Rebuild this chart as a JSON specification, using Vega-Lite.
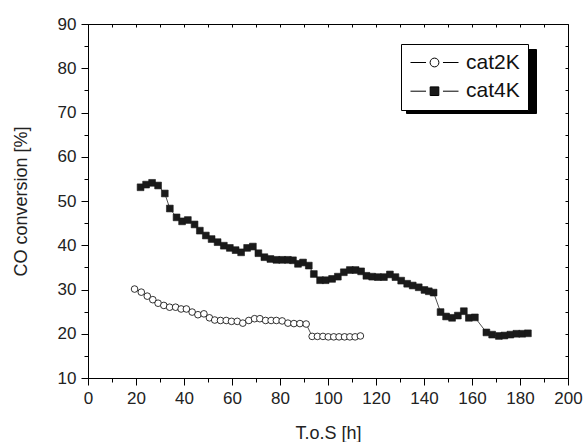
{
  "$schema": "https://vega.github.io/schema/vega-lite/v6.json",
  "width": 480,
  "height": 354,
  "autosize": {"type": "none"},
  "padding": {"left": 88, "top": 24, "right": 20, "bottom": 64},
  "background": "white",
  "config": {
    "font": "Liberation Sans",
    "view": {"stroke": "black", "strokeWidth": 1},
    "axis": {"grid": false, "domainColor": "black", "tickColor": "black", "labelColor": "#222", "titleColor": "#222", "titleFontWeight": "normal", "labelFont": "Liberation Sans", "titleFont": "Liberation Sans"},
    "legend": {"labelFont": "Liberation Sans"}
  },
  "data": {
    "values": [
      {"series": "cat2K", "t": 19.4, "conv": 30.1},
      {"series": "cat2K", "t": 22.2, "conv": 29.4},
      {"series": "cat2K", "t": 24.7, "conv": 28.5},
      {"series": "cat2K", "t": 27.0, "conv": 27.7},
      {"series": "cat2K", "t": 29.2, "conv": 26.9},
      {"series": "cat2K", "t": 31.6, "conv": 26.4},
      {"series": "cat2K", "t": 34.0, "conv": 26.0},
      {"series": "cat2K", "t": 36.5, "conv": 26.0},
      {"series": "cat2K", "t": 38.8, "conv": 25.6},
      {"series": "cat2K", "t": 41.0, "conv": 25.6},
      {"series": "cat2K", "t": 43.4, "conv": 24.9},
      {"series": "cat2K", "t": 45.8, "conv": 24.3},
      {"series": "cat2K", "t": 48.3, "conv": 24.5},
      {"series": "cat2K", "t": 50.6, "conv": 23.6},
      {"series": "cat2K", "t": 52.8, "conv": 23.1},
      {"series": "cat2K", "t": 55.2, "conv": 23.0},
      {"series": "cat2K", "t": 57.6, "conv": 23.0},
      {"series": "cat2K", "t": 59.8, "conv": 22.8},
      {"series": "cat2K", "t": 62.2, "conv": 22.8},
      {"series": "cat2K", "t": 64.5, "conv": 22.4},
      {"series": "cat2K", "t": 67.0, "conv": 23.0},
      {"series": "cat2K", "t": 69.4, "conv": 23.4},
      {"series": "cat2K", "t": 71.6, "conv": 23.4},
      {"series": "cat2K", "t": 74.0, "conv": 23.0},
      {"series": "cat2K", "t": 76.3, "conv": 23.0},
      {"series": "cat2K", "t": 78.5, "conv": 23.0},
      {"series": "cat2K", "t": 80.9, "conv": 22.9},
      {"series": "cat2K", "t": 83.3, "conv": 22.4},
      {"series": "cat2K", "t": 85.8, "conv": 22.3},
      {"series": "cat2K", "t": 88.3, "conv": 22.3},
      {"series": "cat2K", "t": 90.9, "conv": 22.2},
      {"series": "cat2K", "t": 93.4, "conv": 19.4},
      {"series": "cat2K", "t": 95.6, "conv": 19.4},
      {"series": "cat2K", "t": 97.9, "conv": 19.4},
      {"series": "cat2K", "t": 100.1, "conv": 19.3},
      {"series": "cat2K", "t": 102.4, "conv": 19.3},
      {"series": "cat2K", "t": 104.6, "conv": 19.3},
      {"series": "cat2K", "t": 106.9, "conv": 19.3},
      {"series": "cat2K", "t": 109.1, "conv": 19.3},
      {"series": "cat2K", "t": 111.3, "conv": 19.3},
      {"series": "cat2K", "t": 113.5, "conv": 19.5},
      {"series": "cat4K", "t": 21.9, "conv": 53.1},
      {"series": "cat4K", "t": 24.2, "conv": 53.7},
      {"series": "cat4K", "t": 26.7, "conv": 54.1},
      {"series": "cat4K", "t": 29.2, "conv": 53.5},
      {"series": "cat4K", "t": 32.0, "conv": 51.7},
      {"series": "cat4K", "t": 34.1, "conv": 48.3},
      {"series": "cat4K", "t": 36.9, "conv": 46.3},
      {"series": "cat4K", "t": 39.2, "conv": 45.4},
      {"series": "cat4K", "t": 41.6, "conv": 45.7},
      {"series": "cat4K", "t": 44.4, "conv": 44.7},
      {"series": "cat4K", "t": 46.6, "conv": 43.3},
      {"series": "cat4K", "t": 49.1, "conv": 42.2},
      {"series": "cat4K", "t": 51.5, "conv": 41.4},
      {"series": "cat4K", "t": 54.0, "conv": 40.7},
      {"series": "cat4K", "t": 56.6, "conv": 39.9},
      {"series": "cat4K", "t": 59.1, "conv": 39.4},
      {"series": "cat4K", "t": 61.5, "conv": 38.9},
      {"series": "cat4K", "t": 63.8, "conv": 38.4},
      {"series": "cat4K", "t": 66.3, "conv": 39.4},
      {"series": "cat4K", "t": 68.7, "conv": 39.7},
      {"series": "cat4K", "t": 71.0, "conv": 38.2},
      {"series": "cat4K", "t": 73.5, "conv": 37.3},
      {"series": "cat4K", "t": 76.0, "conv": 36.9},
      {"series": "cat4K", "t": 78.5, "conv": 36.7},
      {"series": "cat4K", "t": 80.9, "conv": 36.7},
      {"series": "cat4K", "t": 83.3, "conv": 36.7},
      {"series": "cat4K", "t": 85.4, "conv": 36.6},
      {"series": "cat4K", "t": 87.5, "conv": 35.8},
      {"series": "cat4K", "t": 89.6, "conv": 36.1},
      {"series": "cat4K", "t": 92.0, "conv": 35.4},
      {"series": "cat4K", "t": 94.1, "conv": 33.5},
      {"series": "cat4K", "t": 96.7, "conv": 32.1},
      {"series": "cat4K", "t": 99.0, "conv": 32.1},
      {"series": "cat4K", "t": 101.7, "conv": 32.4},
      {"series": "cat4K", "t": 104.1, "conv": 32.9},
      {"series": "cat4K", "t": 106.6, "conv": 33.9},
      {"series": "cat4K", "t": 109.1, "conv": 34.4},
      {"series": "cat4K", "t": 111.5, "conv": 34.4},
      {"series": "cat4K", "t": 113.8, "conv": 34.1},
      {"series": "cat4K", "t": 116.0, "conv": 33.1},
      {"series": "cat4K", "t": 118.4, "conv": 32.9},
      {"series": "cat4K", "t": 120.8, "conv": 32.8},
      {"series": "cat4K", "t": 123.3, "conv": 32.8},
      {"series": "cat4K", "t": 125.8, "conv": 33.4},
      {"series": "cat4K", "t": 128.1, "conv": 32.8},
      {"series": "cat4K", "t": 130.5, "conv": 32.0},
      {"series": "cat4K", "t": 133.0, "conv": 31.3},
      {"series": "cat4K", "t": 135.3, "conv": 30.9},
      {"series": "cat4K", "t": 137.8, "conv": 30.5},
      {"series": "cat4K", "t": 140.2, "conv": 29.9},
      {"series": "cat4K", "t": 142.0, "conv": 29.6},
      {"series": "cat4K", "t": 144.0, "conv": 29.3},
      {"series": "cat4K", "t": 146.9, "conv": 24.9},
      {"series": "cat4K", "t": 149.2, "conv": 23.9},
      {"series": "cat4K", "t": 151.7, "conv": 23.6},
      {"series": "cat4K", "t": 154.1, "conv": 24.1},
      {"series": "cat4K", "t": 156.6, "conv": 25.1},
      {"series": "cat4K", "t": 158.7, "conv": 23.6},
      {"series": "cat4K", "t": 161.2, "conv": 23.7},
      {"series": "cat4K", "t": 166.0, "conv": 20.3},
      {"series": "cat4K", "t": 168.4, "conv": 19.8},
      {"series": "cat4K", "t": 171.2, "conv": 19.5},
      {"series": "cat4K", "t": 173.5, "conv": 19.6},
      {"series": "cat4K", "t": 176.0, "conv": 19.8},
      {"series": "cat4K", "t": 178.5, "conv": 20.0},
      {"series": "cat4K", "t": 180.9, "conv": 20.0},
      {"series": "cat4K", "t": 183.3, "conv": 20.1}
    ]
  },
  "layer": [
    {
      "mark": {"type": "line", "color": "#222", "strokeWidth": 0.8},
      "encoding": {
        "x": {
          "field": "t", "type": "quantitative",
          "scale": {"domain": [0, 200], "nice": false, "zero": false},
          "axis": {
            "orient": "bottom",
            "values": [0, 10, 20, 30, 40, 50, 60, 70, 80, 90, 100, 110, 120, 130, 140, 150, 160, 170, 180, 190, 200],
            "labelExpr": "datum.value % 20 === 0 ? datum.label : ''",
            "tickSize": {"condition": {"test": "datum.value % 20 === 0", "value": 7}, "value": 4},
            "labelFontSize": 17, "labelPadding": 5, "labelFlush": false, "labelOverlap": false,
            "title": "T.o.S [h]", "titleFontSize": 18, "titlePadding": 18
          }
        },
        "y": {
          "field": "conv", "type": "quantitative",
          "scale": {"domain": [10, 90], "nice": false, "zero": false},
          "axis": {
            "orient": "left",
            "values": [10, 15, 20, 25, 30, 35, 40, 45, 50, 55, 60, 65, 70, 75, 80, 85, 90],
            "labelExpr": "datum.value % 10 === 0 ? datum.label : ''",
            "tickSize": {"condition": {"test": "datum.value % 10 === 0", "value": 7}, "value": 4},
            "labelFontSize": 17, "labelPadding": 5, "labelFlush": false, "labelOverlap": false,
            "title": "CO conversion [%]", "titleFontSize": 18, "titlePadding": 27
          }
        },
        "opacity": {
          "field": "series", "type": "nominal",
          "scale": {"range": [1, 1]},
          "legend": {
            "orient": "none", "legendX": 318, "legendY": 25, "title": null,
            "fillColor": "black", "strokeColor": "black", "padding": 8,
            "symbolSize": 256, "symbolOffset": 15, "labelOffset": 21, "labelFontSize": 21,
            "labelExpr": "''",
            "labelColor": "black", "symbolFillColor": "black", "symbolStrokeColor": "black",
            "symbolType": "M-3,-1.31H10.6V1.31H-3Z", "rowPadding": -4.3
          }
        }
      }
    },
    {
      "transform": [{"filter": "datum.series === 'cat2K'"}],
      "mark": {"type": "point", "shape": "circle", "fill": "white", "stroke": "black", "strokeWidth": 0.8, "opacity": 1, "size": 44},
      "encoding": {
        "x": {
          "field": "t", "type": "quantitative",
          "axis": {
            "orient": "top", "values": [0, 10, 20, 30, 40, 50, 60, 70, 80, 90, 100, 110, 120, 130, 140, 150, 160, 170, 180, 190, 200],
            "labels": false, "title": null, "domain": false, "tickSize": -3
          }
        },
        "y": {
          "field": "conv", "type": "quantitative",
          "axis": {
            "orient": "right", "values": [10, 15, 20, 25, 30, 35, 40, 45, 50, 55, 60, 65, 70, 75, 80, 85, 90],
            "labels": false, "title": null, "domain": false, "tickSize": -3
          }
        }
      }
    },
    {
      "transform": [{"filter": "datum.series === 'cat4K'"}],
      "mark": {"type": "point", "shape": "square", "fill": "#1a1a1a", "stroke": "#1a1a1a", "strokeWidth": 0.6, "opacity": 1, "size": 46},
      "encoding": {
        "x": {"field": "t", "type": "quantitative", "axis": null},
        "y": {"field": "conv", "type": "quantitative", "axis": null}
      }
    },
    {
      "mark": {"type": "point", "opacity": 0, "strokeWidth": 1, "size": 1},
      "encoding": {
        "x": {"field": "t", "type": "quantitative", "axis": null},
        "y": {"field": "conv", "type": "quantitative", "axis": null},
        "shape": {
          "field": "series", "type": "nominal",
          "scale": {"domain": ["cat2K", "cat4K"], "range": [
            "M-3,0H-1.06M1.06,0H3M0.55,0A0.55,0.55,0,1,1,-0.55,0A0.55,0.55,0,1,1,0.55,0Z",
            "M-3,0H-1.06M1.06,0H3M-0.54,-0.54H0.54V0.54H-0.54Z"
          ]},
          "legend": {
            "orient": "none", "legendX": 313, "legendY": 20, "title": null,
            "fillColor": "white", "strokeColor": "black", "padding": 8,
            "symbolSize": 256, "symbolOffset": 15, "labelOffset": 21, "labelFontSize": 21,
            "labelColor": "#111", "rowPadding": 6.7,
            "symbolOpacity": 1, "symbolStrokeWidth": 1
          }
        },
        "fill": {
          "field": "series", "type": "nominal",
          "scale": {"domain": ["cat2K", "cat4K"], "range": ["white", "#1a1a1a"]}
        },
        "stroke": {
          "field": "series", "type": "nominal",
          "scale": {"domain": ["cat2K", "cat4K"], "range": ["black", "black"]}
        }
      }
    }
  ],
  "resolve": {"axis": {"x": "independent", "y": "independent"}}
}
